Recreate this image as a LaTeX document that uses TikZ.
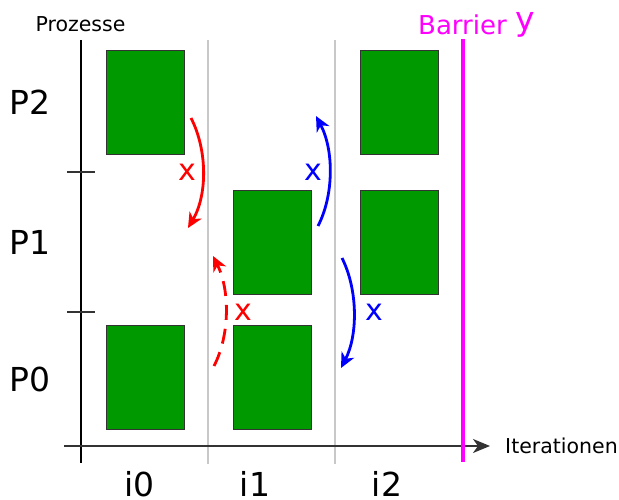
\documentclass[tikz,border=0pt]{standalone}
\usepackage{fontspec}
\setmainfont{DejaVu Sans}
\usetikzlibrary{arrows.meta}
\definecolor{boxgreen}{HTML}{009900}
\definecolor{boxedge}{HTML}{333333}
\definecolor{grid}{HTML}{C8C8C8}
\definecolor{mag}{HTML}{FF00FF}
\newcommand{\fs}[1]{\fontsize{#1}{#1}\selectfont}
\begin{document}
\begin{tikzpicture}[x=1pt,y=-1pt,
  blk/.style={draw=boxedge,line width=1.4pt,fill=boxgreen,minimum width=78pt,minimum height=104pt,inner sep=0pt,anchor=north west},
  lbl/.style={inner sep=0pt},
  big/.style={lbl,font=\fs{33}},
  xl/.style={lbl,font=\fs{30}},
  msg/.style={line width=2.8pt,-{Stealth[length=15pt,width=14pt,inset=4.5pt]}},
  gridline/.style={grid,line width=1.5pt}]
\useasboundingbox (0,0) rectangle (619,500);
% grid lines
\coordinate (g1t) at (208,40); \coordinate (g1b) at (208,464);
\coordinate (g2t) at (335,40); \coordinate (g2b) at (335,464);
\draw[gridline] (g1t) -- (g1b);
\draw[gridline] (g2t) -- (g2b);
% axes
\coordinate (yt) at (81,40); \coordinate (yb) at (81,463);
\coordinate (xl) at (64,446); \coordinate (xr) at (490,446);
\draw[line width=1.7pt] (yt) -- (yb);
\draw[line width=1.8pt,draw=black!80,-{Stealth[length=17pt,width=14pt,inset=5pt]}] (xl) -- (xr);
\coordinate (t1a) at (67,172); \coordinate (t1b) at (95,172);
\coordinate (t2a) at (67,312); \coordinate (t2b) at (95,312);
\draw[line width=1.5pt,draw=black!80] (t1a) -- (t1b);
\draw[line width=1.5pt,draw=black!80] (t2a) -- (t2b);
% barrier
\coordinate (bt) at (463,39); \coordinate (bb) at (463,462);
\draw[mag,line width=3.8pt] (bt) -- (bb);
% blocks
\node[blk] (b20) at (106,50) {};
\node[blk] (b22) at (360,50) {};
\node[blk] (b11) at (233,190) {};
\node[blk] (b12) at (360,190) {};
\node[blk] (b00) at (106,325) {};
\node[blk] (b01) at (233,325) {};
% labels
\node[lbl,font=\fs{20.5}] (proz) at (80.5,24.5) {Prozesse};
\node[big] (p2) at (30,102.5) {P2};
\node[big] (p1) at (30,242) {P1};
\node[big] (p0) at (30,379) {P0};
\node[big] (i0) at (139.5,484) {i0};
\node[big] (i1) at (255,484) {i1};
\node[big] (i2) at (387,484) {i2};
\node[lbl,font=\fs{20.5},anchor=west] (iter) at (505,446) {Iterationen};
\node[lbl,font=\fs{26},text=mag,anchor=base] (barr) at (462.5,35) {Barrier};
\node[lbl,font=\fs{33},text=mag,anchor=base] (yv) at (525.5,31) {y};
% messages
\coordinate (r1s) at (191,118); \coordinate (r1e) at (188,228);
\draw[msg,red] (r1s) .. controls (207.5,150) and (207.5,195) .. (r1e);
\node[xl,text=red] (x1) at (187.5,172.5) {x};
\coordinate (r2s) at (214,366); \coordinate (r2e) at (213,256);
\draw[msg,red,dash pattern=on 15pt off 9pt] (r2s) .. controls (230,335) and (230,290) .. (r2e);
\node[xl,text=red] (x2) at (243,312) {x};
\coordinate (u1s) at (318,226); \coordinate (u1e) at (316,116);
\draw[msg,blue] (u1s) .. controls (334,195) and (334,150) .. (u1e);
\node[xl,text=blue] (x3) at (313.5,172) {x};
\coordinate (d1s) at (342,258); \coordinate (d1e) at (341,368);
\draw[msg,blue] (d1s) .. controls (358,290) and (358,335) .. (d1e);
\node[xl,text=blue] (x4) at (374.5,312) {x};
\end{tikzpicture}
\end{document}
